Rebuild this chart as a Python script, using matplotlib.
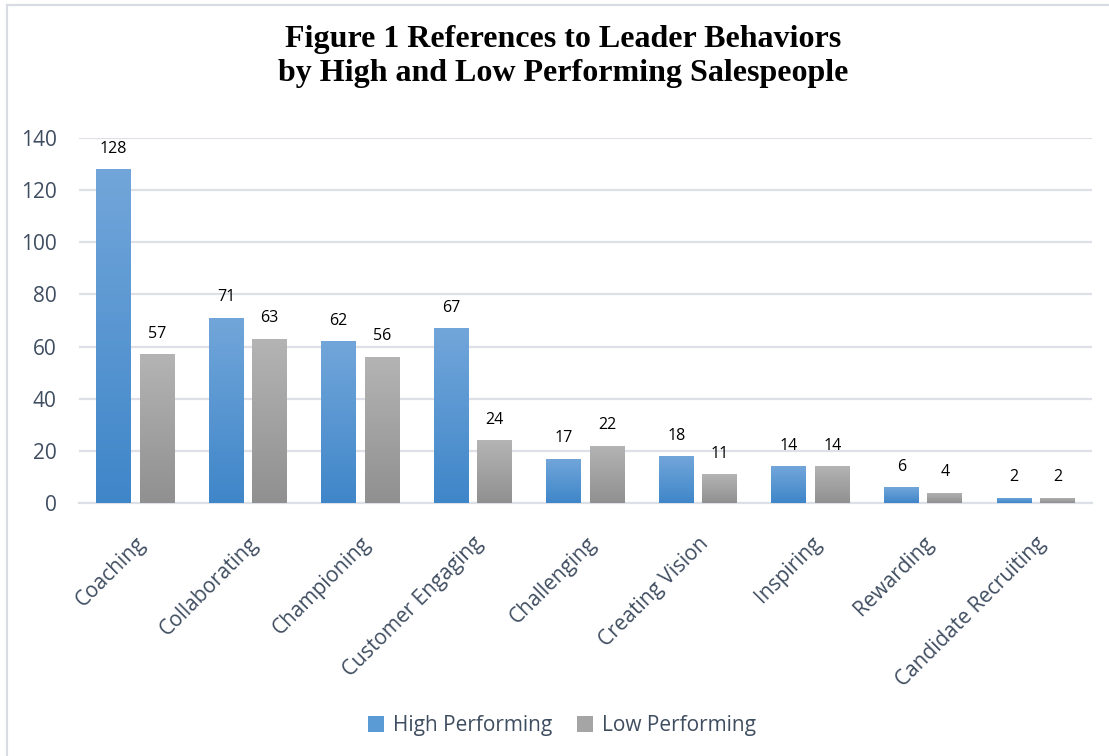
#!/usr/bin/env python3
"""
Leader behavior references by high and low performing salespeople.

Clustered column chart with Excel-style gradient fills.
"""

import numpy as np
import matplotlib
matplotlib.use('Agg')
import matplotlib.pyplot as plt
from matplotlib.colors import LinearSegmentedColormap
from matplotlib.lines import Line2D
from matplotlib.patches import Patch
from matplotlib.transforms import ScaledTranslation

# Data
categories = ['Coaching', 'Collaborating', 'Championing', 'Customer Engaging',
              'Challenging', 'Creating Vision', 'Inspiring', 'Rewarding',
              'Candidate Recruiting']
high_performing = [128, 71, 62, 67, 17, 18, 14, 6, 2]
low_performing = [57, 63, 56, 24, 22, 11, 14, 4, 2]
y_ticks = [0, 20, 40, 60, 80, 100, 120, 140]
series_names = ['High Performing', 'Low Performing']

TITLE = 'Figure 1 References to Leader Behaviors\nby High and Low Performing Salespeople'
TEXT_COLOR = '#3f4d60'
GRID_COLOR = '#dde1e7'


def gradient_fill(ax, bars, top_color, bottom_color):
    """Paint a vertical gradient inside each bar patch."""
    cmap = LinearSegmentedColormap.from_list('grad', [bottom_color, top_color])
    grad = np.linspace(0, 1, 256).reshape(-1, 1)
    for bar in bars:
        x, y = bar.get_x(), bar.get_y()
        w, h = bar.get_width(), bar.get_height()
        img = ax.imshow(grad, cmap=cmap, origin='lower', aspect='auto',
                        extent=[x, x + w, y, y + h], zorder=bar.get_zorder() + 0.1)
        img.set_clip_path(bar)


def main():
    fig = plt.figure(figsize=(11.09, 7.56), dpi=100)
    ax = fig.add_axes([0.0712, 0.3347, 0.9135, 0.4828])

    x = np.arange(len(categories))
    width = 0.31
    offset = 0.193

    bars_hi = ax.bar(x - offset, high_performing, width, color='#5b9bd5', zorder=3)
    bars_lo = ax.bar(x + offset, low_performing, width, color='#a5a5a5', zorder=3)
    gradient_fill(ax, bars_hi, '#72a6da', '#3f86c9')
    gradient_fill(ax, bars_lo, '#b4b4b4', '#909090')

    # Data labels
    for bars, vals in ((bars_hi, high_performing), (bars_lo, low_performing)):
        for bar, v in zip(bars, vals):
            ax.annotate(str(v), (bar.get_x() + bar.get_width() / 2, v),
                        xytext=(0, 9), textcoords='offset points',
                        ha='center', va='bottom', fontsize=11.5,
                        family='Open Sans', color='black')

    ax.set_xlim(-0.5, len(categories) - 0.5)
    ax.set_ylim(0, 140)
    ax.set_yticks(y_ticks)
    ax.yaxis.grid(True, color=GRID_COLOR, linewidth=1.6, zorder=0)
    ax.set_axisbelow(True)
    for side in ('top', 'right', 'left'):
        ax.spines[side].set_visible(False)
    ax.spines['bottom'].set_color(GRID_COLOR)
    ax.spines['bottom'].set_linewidth(1.6)
    ax.tick_params(axis='both', length=0, colors=TEXT_COLOR)
    ax.tick_params(axis='y', pad=16)

    for lbl in ax.get_yticklabels():
        lbl.set_fontsize(15)
        lbl.set_family('Open Sans')

    ax.set_xticks(x)
    ax.set_xticklabels(categories, rotation=45, ha='right',
                       rotation_mode='anchor', fontsize=15, family='Open Sans')
    shift = ScaledTranslation(0, -18 / 72, fig.dpi_scale_trans)
    for lbl in ax.get_xticklabels():
        lbl.set_transform(lbl.get_transform() + shift)

    fig.text(0.508, 0.967, TITLE, ha='center', va='top', fontsize=23,
             fontweight='bold', family='Liberation Serif', linespacing=1.22)

    handles = [Patch(facecolor='#5b9bd5'), Patch(facecolor='#a5a5a5')]
    fig.legend(handles, series_names, loc='center', bbox_to_anchor=(0.507, 0.04),
               ncol=2, frameon=False, handlelength=0.75, handleheight=0.75,
               handletextpad=0.45, columnspacing=1.2,
               prop={'family': 'Open Sans', 'size': 15}, labelcolor=TEXT_COLOR)

    # Chart frame (left and top edges visible in the reference)
    fig.add_artist(Line2D([7 / 1109, 7 / 1109], [0, 1 - 5 / 756],
                          transform=fig.transFigure, color='#d9dde3', linewidth=1.6))
    fig.add_artist(Line2D([7 / 1109, 1], [1 - 5 / 756, 1 - 5 / 756],
                          transform=fig.transFigure, color='#d9dde3', linewidth=1.6))

    fig.savefig('out.png', dpi=100)
    plt.close(fig)


if __name__ == '__main__':
    main()
